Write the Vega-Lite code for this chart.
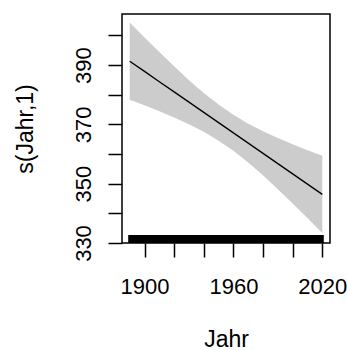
{
  "$schema": "https://vega.github.io/schema/vega-lite/v6.json",
  "width": 208,
  "height": 229,
  "autosize": {"type": "none"},
  "padding": {"left": 122, "top": 14, "right": 17, "bottom": 107},
  "background": "white",
  "datasets": {
    "fit": [
      {"Jahr": 1890, "fit": 391.3, "lower": 378.3, "upper": 404.3},
      {"Jahr": 1900, "fit": 387.85, "lower": 376.4, "upper": 399.3},
      {"Jahr": 1910, "fit": 384.39, "lower": 374.4, "upper": 394.4},
      {"Jahr": 1920, "fit": 380.94, "lower": 372.3, "upper": 389.6},
      {"Jahr": 1930, "fit": 377.48, "lower": 370.0, "upper": 384.9},
      {"Jahr": 1940, "fit": 374.03, "lower": 367.5, "upper": 380.6},
      {"Jahr": 1950, "fit": 370.58, "lower": 364.5, "upper": 376.7},
      {"Jahr": 1960, "fit": 367.12, "lower": 361.1, "upper": 373.2},
      {"Jahr": 1970, "fit": 363.67, "lower": 357.1, "upper": 370.2},
      {"Jahr": 1980, "fit": 360.21, "lower": 352.8, "upper": 367.7},
      {"Jahr": 1990, "fit": 356.76, "lower": 348.1, "upper": 365.4},
      {"Jahr": 2000, "fit": 353.31, "lower": 343.3, "upper": 363.3},
      {"Jahr": 2010, "fit": 349.85, "lower": 338.4, "upper": 361.3},
      {"Jahr": 2020, "fit": 346.4, "lower": 333.4, "upper": 359.4}
    ],
    "rug": [
      {"Jahr": 1890},{"Jahr": 1891},{"Jahr": 1892},{"Jahr": 1893},{"Jahr": 1894},{"Jahr": 1895},{"Jahr": 1896},{"Jahr": 1897},{"Jahr": 1898},{"Jahr": 1899},
      {"Jahr": 1900},{"Jahr": 1901},{"Jahr": 1902},{"Jahr": 1903},{"Jahr": 1904},{"Jahr": 1905},{"Jahr": 1906},{"Jahr": 1907},{"Jahr": 1908},{"Jahr": 1909},
      {"Jahr": 1910},{"Jahr": 1911},{"Jahr": 1912},{"Jahr": 1913},{"Jahr": 1914},{"Jahr": 1915},{"Jahr": 1916},{"Jahr": 1917},{"Jahr": 1918},{"Jahr": 1919},
      {"Jahr": 1920},{"Jahr": 1921},{"Jahr": 1922},{"Jahr": 1923},{"Jahr": 1924},{"Jahr": 1925},{"Jahr": 1926},{"Jahr": 1927},{"Jahr": 1928},{"Jahr": 1929},
      {"Jahr": 1930},{"Jahr": 1931},{"Jahr": 1932},{"Jahr": 1933},{"Jahr": 1934},{"Jahr": 1935},{"Jahr": 1936},{"Jahr": 1937},{"Jahr": 1938},{"Jahr": 1939},
      {"Jahr": 1940},{"Jahr": 1941},{"Jahr": 1942},{"Jahr": 1943},{"Jahr": 1944},{"Jahr": 1945},{"Jahr": 1946},{"Jahr": 1947},{"Jahr": 1948},{"Jahr": 1949},
      {"Jahr": 1950},{"Jahr": 1951},{"Jahr": 1952},{"Jahr": 1953},{"Jahr": 1954},{"Jahr": 1955},{"Jahr": 1956},{"Jahr": 1957},{"Jahr": 1958},{"Jahr": 1959},
      {"Jahr": 1960},{"Jahr": 1961},{"Jahr": 1962},{"Jahr": 1963},{"Jahr": 1964},{"Jahr": 1965},{"Jahr": 1966},{"Jahr": 1967},{"Jahr": 1968},{"Jahr": 1969},
      {"Jahr": 1970},{"Jahr": 1971},{"Jahr": 1972},{"Jahr": 1973},{"Jahr": 1974},{"Jahr": 1975},{"Jahr": 1976},{"Jahr": 1977},{"Jahr": 1978},{"Jahr": 1979},
      {"Jahr": 1980},{"Jahr": 1981},{"Jahr": 1982},{"Jahr": 1983},{"Jahr": 1984},{"Jahr": 1985},{"Jahr": 1986},{"Jahr": 1987},{"Jahr": 1988},{"Jahr": 1989},
      {"Jahr": 1990},{"Jahr": 1991},{"Jahr": 1992},{"Jahr": 1993},{"Jahr": 1994},{"Jahr": 1995},{"Jahr": 1996},{"Jahr": 1997},{"Jahr": 1998},{"Jahr": 1999},
      {"Jahr": 2000},{"Jahr": 2001},{"Jahr": 2002},{"Jahr": 2003},{"Jahr": 2004},{"Jahr": 2005},{"Jahr": 2006},{"Jahr": 2007},{"Jahr": 2008},{"Jahr": 2009},
      {"Jahr": 2010},{"Jahr": 2011},{"Jahr": 2012},{"Jahr": 2013},{"Jahr": 2014},{"Jahr": 2015},{"Jahr": 2016},{"Jahr": 2017},{"Jahr": 2018},{"Jahr": 2019},
      {"Jahr": 2020}
    ]
  },
  "layer": [
    {
      "data": {"name": "fit"},
      "mark": {"type": "area", "color": "#cccccc", "opacity": 1},
      "encoding": {
        "x": {
          "field": "Jahr", "type": "quantitative",
          "scale": {"domain": [1884.8, 2025.2], "nice": false, "zero": false},
          "title": "Jahr",
          "axis": {
            "values": [1900, 1920, 1940, 1960, 1980, 2000, 2020],
            "format": "d",
            "labelExpr": "datum.value % 60 == 40 ? datum.label : ''"
          }
        },
        "y": {
          "field": "lower", "type": "quantitative",
          "scale": {"domain": [330, 407.2], "nice": false, "zero": false},
          "title": "s(Jahr,1)",
          "axis": {
            "values": [330, 340, 350, 360, 370, 380, 390, 400],
            "labelExpr": "datum.value % 20 == 10 ? datum.label : ''"
          }
        },
        "y2": {"field": "upper"}
      }
    },
    {
      "data": {"name": "fit"},
      "mark": {"type": "line", "color": "black", "strokeWidth": 1.3},
      "encoding": {
        "x": {
          "field": "Jahr", "type": "quantitative", "title": "Jahr",
          "axis": {
            "values": [1900, 1920, 1940, 1960, 1980, 2000, 2020],
            "format": "d",
            "labelExpr": "datum.value % 60 == 40 ? datum.label : ''"
          }
        },
        "y": {
          "field": "fit", "type": "quantitative", "title": "s(Jahr,1)",
          "axis": {
            "values": [330, 340, 350, 360, 370, 380, 390, 400],
            "labelExpr": "datum.value % 20 == 10 ? datum.label : ''"
          }
        }
      }
    },
    {
      "data": {"name": "rug"},
      "mark": {"type": "rule", "color": "black", "strokeWidth": 3},
      "encoding": {
        "x": {
          "field": "Jahr", "type": "quantitative", "title": "Jahr",
          "axis": {
            "values": [1900, 1920, 1940, 1960, 1980, 2000, 2020],
            "format": "d",
            "labelExpr": "datum.value % 60 == 40 ? datum.label : ''"
          }
        },
        "y": {
          "datum": 330, "type": "quantitative", "title": "s(Jahr,1)",
          "axis": {
            "values": [330, 340, 350, 360, 370, 380, 390, 400],
            "labelExpr": "datum.value % 20 == 10 ? datum.label : ''"
          }
        },
        "y2": {"datum": 332.7}
      }
    }
  ],
  "config": {
    "view": {"stroke": "black", "strokeWidth": 1.5},
    "font": "Liberation Sans",
    "axis": {
      "grid": false,
      "domain": false,
      "ticks": true,
      "tickColor": "black",
      "tickWidth": 1.5,
      "tickSize": 14,
      "labelColor": "black",
      "labelFont": "Liberation Sans",
      "labelFontSize": 22,
      "labelOverlap": false,
      "labelBound": false,
      "labelFlush": false,
      "titleColor": "black",
      "titleFont": "Liberation Sans",
      "titleFontSize": 23,
      "titleFontWeight": "normal",
      "labelBaseline": "alphabetic"
    },
    "axisX": {
      "labelPadding": 36,
      "labelAngle": 0,
      "labelAlign": "center",
      "titleY": 103,
      "titleBaseline": "alphabetic"
    },
    "axisY": {
      "labelPadding": 18,
      "labelAngle": -90,
      "labelAlign": "center",
      "titleX": -90,
      "titleAngle": -90,
      "titleBaseline": "alphabetic",
      "titleAlign": "center"
    }
  }
}
